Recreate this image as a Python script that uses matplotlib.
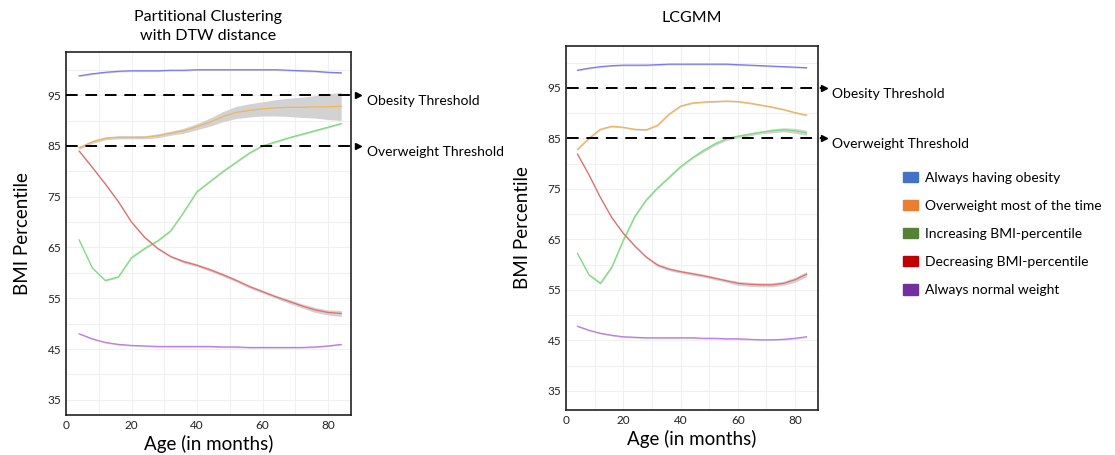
import numpy as np
import matplotlib.pyplot as plt
from matplotlib.patches import Patch

plt.rcParams['font.family'] = ['Lato', 'DejaVu Sans']

# ages (months)
age = [4, 8, 12, 16, 20, 24, 28, 32, 36, 40, 44, 48, 52, 56, 60, 64, 68, 72, 76, 80, 84]

# Partitional clustering with DTW
dtw_obese = [98.8, 99.2, 99.5, 99.7, 99.8, 99.8, 99.8, 99.9, 99.9, 100, 100, 100, 100, 100, 100, 100, 99.9, 99.8, 99.7, 99.5, 99.4]
dtw_over = [84.6, 85.8, 86.5, 86.7, 86.7, 86.7, 87.0, 87.5, 88.0, 88.8, 89.7, 90.8, 91.6, 92.0, 92.3, 92.5, 92.6, 92.6, 92.7, 92.7, 92.8]
dtw_over_ci = [0.3, 0.3, 0.3, 0.3, 0.3, 0.3, 0.4, 0.4, 0.5, 0.6, 0.8, 1.0, 1.2, 1.3, 1.4, 1.6, 1.8, 2.0, 2.2, 2.5, 2.8]
dtw_inc = [66.5, 61.0, 58.5, 59.2, 63.0, 64.8, 66.3, 68.3, 72.0, 76.0, 78.0, 80.0, 81.8, 83.6, 85.0, 85.8, 86.6, 87.3, 88.0, 88.7, 89.4]
dtw_dec = [84.0, 80.8, 77.5, 74.0, 70.0, 67.0, 64.8, 63.2, 62.2, 61.5, 60.6, 59.6, 58.5, 57.3, 56.3, 55.3, 54.4, 53.5, 52.7, 52.2, 52.0]
dtw_dec_ci = [0.2, 0.2, 0.2, 0.2, 0.2, 0.2, 0.2, 0.2, 0.3, 0.3, 0.3, 0.3, 0.3, 0.3, 0.3, 0.3, 0.4, 0.4, 0.5, 0.5, 0.6]
dtw_norm = [48.0, 47.0, 46.3, 45.9, 45.7, 45.6, 45.5, 45.5, 45.5, 45.5, 45.5, 45.4, 45.4, 45.3, 45.3, 45.3, 45.3, 45.3, 45.4, 45.6, 45.9]

# LCGMM
lc_obese = [98.5, 98.9, 99.2, 99.4, 99.5, 99.5, 99.5, 99.6, 99.7, 99.7, 99.7, 99.7, 99.7, 99.7, 99.6, 99.5, 99.4, 99.3, 99.2, 99.1, 99.0]
lc_over = [82.8, 85.0, 86.8, 87.4, 87.2, 86.8, 86.7, 87.6, 89.8, 91.4, 92.0, 92.2, 92.3, 92.4, 92.3, 92.0, 91.6, 91.2, 90.7, 90.1, 89.6]
lc_inc = [62.2, 58.0, 56.3, 59.5, 64.8, 69.5, 72.8, 75.2, 77.3, 79.4, 81.1, 82.6, 83.9, 84.9, 85.4, 85.8, 86.2, 86.5, 86.7, 86.5, 86.1]
lc_inc_ci = [0.2, 0.2, 0.2, 0.2, 0.2, 0.2, 0.2, 0.2, 0.2, 0.2, 0.2, 0.3, 0.3, 0.3, 0.3, 0.3, 0.3, 0.4, 0.4, 0.5, 0.5]
lc_dec = [81.9, 77.8, 73.3, 69.3, 66.2, 63.7, 61.5, 59.9, 59.1, 58.6, 58.2, 57.8, 57.3, 56.8, 56.3, 56.1, 56.0, 56.0, 56.3, 57.0, 58.1]
lc_dec_ci = [0.2, 0.2, 0.2, 0.2, 0.2, 0.2, 0.2, 0.3, 0.3, 0.3, 0.3, 0.3, 0.3, 0.3, 0.4, 0.4, 0.4, 0.4, 0.4, 0.5, 0.5]
lc_norm = [47.8, 47.0, 46.4, 46.0, 45.7, 45.6, 45.5, 45.5, 45.5, 45.5, 45.5, 45.4, 45.4, 45.3, 45.3, 45.2, 45.1, 45.1, 45.2, 45.4, 45.7]

labels = ['Always having obesity', 'Overweight most of the time', 'Increasing BMI-percentile',
          'Decreasing BMI-percentile', 'Always normal weight']
legend_colors = ['#4472C4', '#ED7D31', '#548235', '#C00000', '#7030A0']
line_colors = ['#7b7bf0', '#f0b45a', '#78e078', '#e86a6a', '#c27ae6']

yticks = [35, 45, 55, 65, 75, 85, 95]
xticks = [0, 20, 40, 60, 80]

fig = plt.figure(figsize=(11.15, 4.55), dpi=100)
W, H = 1115, 455


def panel(rect, series, cis, title, title_y, xlim, ylim, arrow_x):
    x0, y0, x1, y1 = rect
    ax = fig.add_axes([x0 / W, 1 - y1 / H, (x1 - x0) / W, (y1 - y0) / H])
    a = np.array(age)
    for s, c, ci in zip(series, line_colors, cis):
        s = np.array(s)
        ci = np.array(ci) if ci is not None else np.full(len(s), 0.15)
        ax.fill_between(a, s - ci, s + ci, color='#d2d2d2', lw=0, zorder=1)
        ax.plot(a, s, color=c, lw=0.9, zorder=2)
    ax.set_xlim(*xlim)
    ax.set_ylim(*ylim)
    ax.set_xticks(xticks)
    ax.set_yticks(yticks)
    ax.set_xticks(range(10, 90, 10), minor=True)
    ax.set_yticks(range(35, 105, 5), minor=True)
    ax.grid(which='both', color='#f0f0f0', lw=0.8)
    ax.set_axisbelow(True)
    ax.tick_params(length=0, labelsize=8.5, colors='#222222')
    ax.tick_params(which='minor', length=0)
    for sp in ax.spines.values():
        sp.set_linewidth(1.2)
        sp.set_color('#222222')
    ax.set_xlabel('Age (in months)', fontsize=13.5, labelpad=3)
    ax.set_ylabel('BMI Percentile', fontsize=13.5, labelpad=12)
    fig.text((x0 + x1) / 2 / W, 1 - title_y / H, title, fontsize=11.5, ha='center',
             va='top', linespacing=1.5)
    for yv, txt in [(95, 'Obesity Threshold'), (85, 'Overweight Threshold')]:
        ax.plot([xlim[0], arrow_x], [yv, yv], color='black', ls=(0, (6, 4)), lw=1.4,
                clip_on=False, zorder=3)
        ax.plot([arrow_x], [yv], marker='>', color='black', ms=4, clip_on=False, zorder=3)
        ax.text(arrow_x + 3, yv, txt, fontsize=10, va='top', ha='left', clip_on=False)
    return ax


dtw = [dtw_obese, dtw_over, dtw_inc, dtw_dec, dtw_norm]
dtw_ci = [None, dtw_over_ci, None, dtw_dec_ci, None]
lc = [lc_obese, lc_over, lc_inc, lc_dec, lc_norm]
lc_ci = [None, None, lc_inc_ci, lc_dec_ci, None]

panel((66, 52, 351, 415), dtw, dtw_ci, 'Partitional Clustering\nwith DTW distance', 10,
      (0, 87), (32, 103.5), 89)
panel((566, 46, 818, 410), lc, lc_ci, 'LCGMM', 11, (0.5, 88), (31.2, 103.3), 90)

handles = [Patch(facecolor=c, edgecolor=c) for c in legend_colors]
fig.legend(handles, labels, loc='upper left', bbox_to_anchor=(890 / W, 1 - 159 / H),
           frameon=False, fontsize=10, handlelength=1.1, handleheight=0.8,
           labelspacing=1.15, handletextpad=0.55)

fig.savefig('out.png', dpi=100)
